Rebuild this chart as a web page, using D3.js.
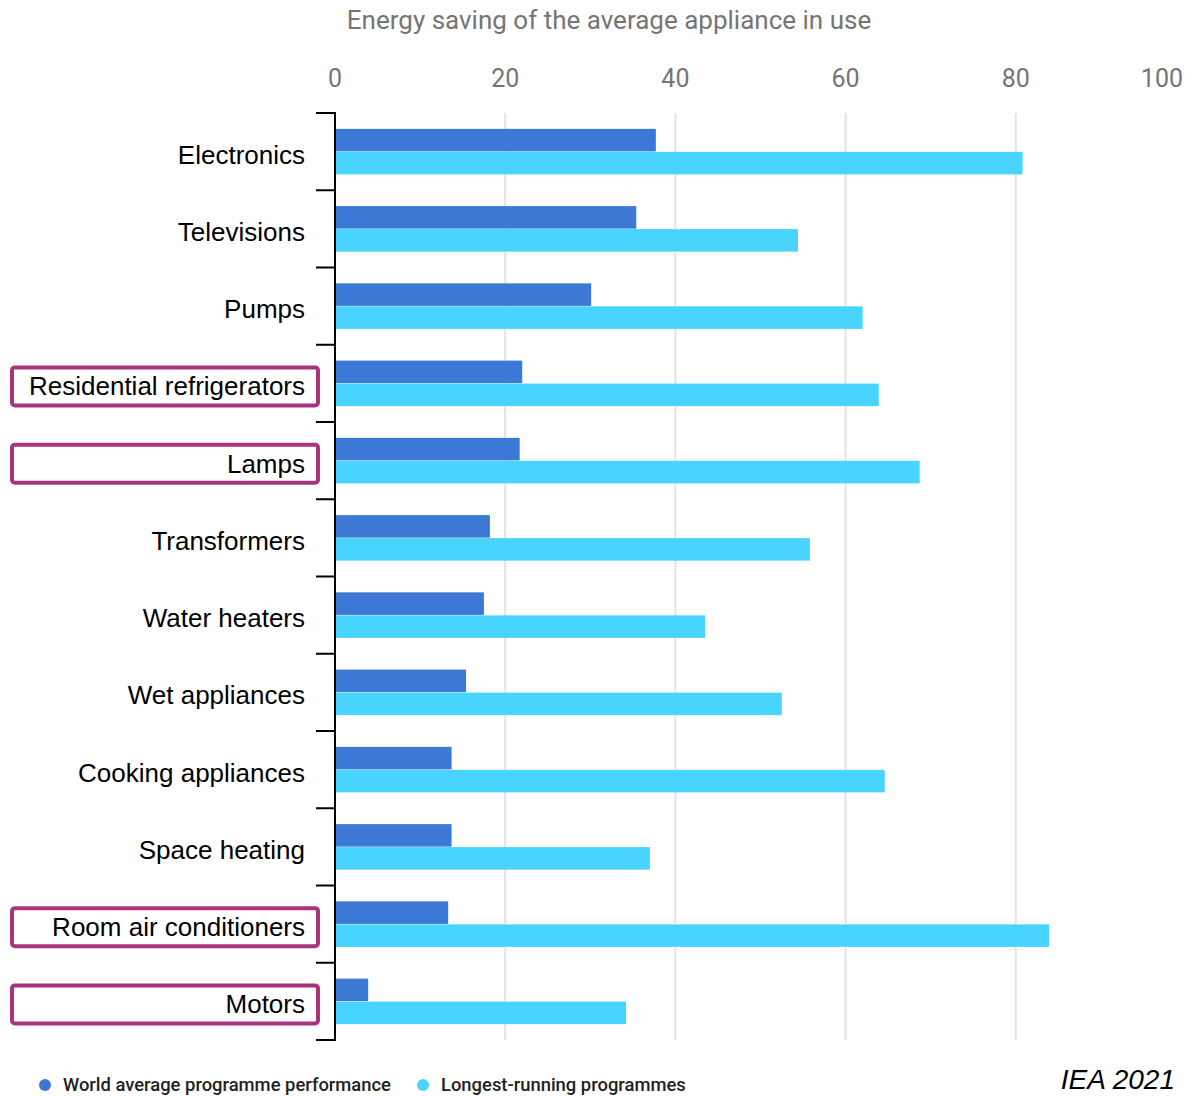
<!DOCTYPE html>
<html>
<head>
<meta charset="utf-8">
<script src="https://cdnjs.cloudflare.com/ajax/libs/d3/7.8.5/d3.min.js"></script>
<style>
  body { margin: 0; background: #fff; }
  svg { display: block; }
</style>
</head>
<body>
<div id="chart"></div>
<script>
// ===== DATA =====
const categories = [
  'Electronics', 'Televisions', 'Pumps', 'Residential refrigerators', 'Lamps',
  'Transformers', 'Water heaters', 'Wet appliances', 'Cooking appliances',
  'Space heating', 'Room air conditioners', 'Motors'
];
const worldAverage = [37.7, 35.4, 30.1, 22.0, 21.7, 18.2, 17.5, 15.4, 13.7, 13.7, 13.3, 3.9];
const longestRunning = [80.8, 54.4, 62.0, 63.9, 68.7, 55.8, 43.5, 52.5, 64.6, 37.0, 83.9, 34.2];
const highlighted = ['Residential refrigerators', 'Lamps', 'Room air conditioners', 'Motors'];
const xTicks = [0, 20, 40, 60, 80, 100];
const seriesNames = ['World average programme performance', 'Longest-running programmes'];

const W = 1185, H = 1096;
const margin = { top: 113, left: 335, right: -1, bottom: 56 };
const colors = ['#3c79d6', '#48d4fe'];

const svg = d3.select('#chart').append('svg')
  .attr('width', W)
  .attr('height', H);

const x = d3.scaleLinear().domain([0, 100]).range([margin.left, W - margin.right]);
const y = d3.scaleBand().domain(categories).range([margin.top, H - margin.bottom]).paddingInner(0).paddingOuter(0);
// two bars per group, ~22px each, centred in the band
const inner = d3.scaleBand().domain([0, 1]).range([0, y.bandwidth()]).paddingInner(0.02).paddingOuter(0.69);

// title
svg.append('text')
  .attr('x', 609)
  .attr('y', 29)
  .attr('text-anchor', 'middle')
  .attr('font-family', 'Roboto, Arial, sans-serif')
  .attr('font-size', 26)
  .attr('fill', '#757575')
  .text('Energy saving of the average appliance in use');

// gridlines
svg.append('g')
  .selectAll('line')
  .data(xTicks.filter(d => d > 0 && d < 100))
  .join('line')
  .attr('x1', d => x(d)).attr('x2', d => x(d))
  .attr('y1', margin.top).attr('y2', H - margin.bottom)
  .attr('stroke', '#e3e3e3')
  .attr('stroke-width', 2);

// tick labels (last one pinned to the right edge)
svg.append('g')
  .selectAll('text')
  .data(xTicks)
  .join('text')
  .attr('x', d => d === 100 ? W - 2 : x(d))
  .attr('y', 87)
  .attr('text-anchor', d => d === 100 ? 'end' : 'middle')
  .attr('font-family', 'Roboto, Arial, sans-serif')
  .attr('font-size', 25)
  .attr('fill', '#757575')
  .text(d => d);

// bars
const groups = svg.append('g')
  .selectAll('g')
  .data(categories)
  .join('g')
  .attr('transform', d => `translate(0,${y(d)})`);

[worldAverage, longestRunning].forEach((series, si) => {
  groups.append('rect')
    .attr('x', x(0) + 1)
    .attr('y', inner(si))
    .attr('height', inner.bandwidth())
    .attr('width', (d, i) => x(series[i]) - x(0) - 1)
    .attr('fill', colors[si]);
});

// category axis line + ticks (bracket style)
const axisG = svg.append('g');
axisG.append('line')
  .attr('x1', x(0)).attr('x2', x(0))
  .attr('y1', margin.top - 1).attr('y2', H - margin.bottom + 1)
  .attr('stroke', '#000').attr('stroke-width', 2);
const boundaries = categories.map(d => y(d)).concat([y.range()[1]]);
axisG.selectAll('.tk')
  .data(boundaries)
  .join('line')
  .attr('class', 'tk')
  .attr('x1', x(0) - 19).attr('x2', x(0))
  .attr('y1', d => d).attr('y2', d => d)
  .attr('stroke', '#000').attr('stroke-width', 2);

// highlight boxes
svg.append('g')
  .selectAll('rect')
  .data(highlighted)
  .join('rect')
  .attr('x', 12)
  .attr('y', d => y(d) + y.bandwidth() / 2 - 16)
  .attr('width', 306)
  .attr('height', 38)
  .attr('rx', 3)
  .attr('fill', 'none')
  .attr('stroke', '#a8357c')
  .attr('stroke-width', 4);

// category labels
svg.append('g')
  .selectAll('text')
  .data(categories)
  .join('text')
  .attr('x', 305)
  .attr('y', d => y(d) + y.bandwidth() / 2 + 12)
  .attr('text-anchor', 'end')
  .attr('font-family', '"Liberation Sans", Arial, sans-serif')
  .attr('font-size', 26)
  .attr('fill', '#000')
  .text(d => d);

// legend
const legendX = [45, 423];
seriesNames.forEach((name, i) => {
  svg.append('circle')
    .attr('cx', legendX[i])
    .attr('cy', 1085)
    .attr('r', 6)
    .attr('fill', colors[i]);
  svg.append('text')
    .attr('x', legendX[i] + 18)
    .attr('y', 1091)
    .attr('font-family', 'Roboto, Arial, sans-serif')
    .attr('font-size', 18.4)
    .attr('font-weight', 500)
    .attr('fill', '#222')
    .text(name);
});

// source
svg.append('text')
  .attr('x', 1175)
  .attr('y', 1089)
  .attr('text-anchor', 'end')
  .attr('font-family', '"Liberation Sans", Arial, sans-serif')
  .attr('font-style', 'italic')
  .attr('font-size', 28)
  .attr('fill', '#000')
  .text('IEA 2021');
</script>
</body>
</html>
